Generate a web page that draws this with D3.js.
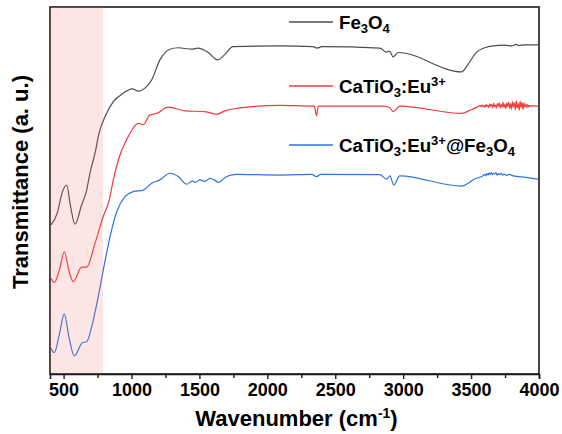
<!DOCTYPE html>
<html>
<head>
<meta charset="utf-8">
<script src="https://cdn.jsdelivr.net/npm/d3@7"></script>
<style>
  body { margin: 0; background: #fff; }
  svg text { font-family: Arial, "Liberation Sans", sans-serif; font-weight: bold; fill: #000; }
</style>
</head>
<body>
<svg id="chart" width="562" height="434"></svg>
<script>
// datos (número de onda cm-1, transmitancia u.a.)
const xTicks = [500, 1000, 1500, 2000, 2500, 3000, 3500, 4000];
const xMinorTicks = [750, 1250, 1750, 2250, 2750, 3250, 3750];
const bandRange = [400, 790]; // zona sombreada

const fe3o4 = [
  [407, 40.6], [454, 43.9], [490, 49.5], [523, 51.5], [550, 46], [584, 40.8], [633, 46.1],
  [670, 50.1], [694, 54.7], [731, 60.1], [761, 65.6], [805, 70.1], [866, 74.2],
  [939, 76.5], [1006, 77.7], [1050, 77.1], [1099, 77.9], [1148, 80.1], [1209, 85.6],
  [1283, 88.5], [1344, 88.9], [1443, 88.5], [1491, 88.8], [1565, 87.6], [1634, 85.6],
  [1688, 87.1], [1747, 89.2], [2092, 89.4], [2335, 89.2], [2367, 88.8], [2401, 89.2],
  [2828, 88.8], [2878, 87.7], [2900, 88.0], [2926, 86.4], [2963, 87.6], [3429, 82.3],
  [3480, 84.5], [3540, 87.7], [3600, 88.9], [3662, 89.4], [3750, 89.6], [3800, 89.4],
  [3830, 89.8], [3850, 89.5], [3900, 89.7], [3993, 89.7]
];

const catio3 = [
  [407, 26.1], [432, 24.9], [470, 28.5], [505, 33.3], [540, 28], [571, 25.2], [633, 29.1],
  [670, 29.1], [731, 35.6], [792, 42.9], [836, 47.4], [866, 52.9], [903, 58.3],
  [976, 64.7], [1050, 68.3], [1087, 67.9], [1136, 70.6], [1185, 71.0], [1270, 72.7],
  [1393, 71.7], [1541, 71.5], [1627, 70.8], [1688, 71.7], [1872, 72.8], [2092, 73.2],
  [2326, 73.0], [2345, 73.0], [2362, 70.4], [2375, 73.0], [2853, 73.0], [2900, 72.6],
  [2926, 71.5], [2975, 73.0], [3429, 71.0], [3500, 72.0], [3560, 73.0], [3568, 73.2],
  [3575, 72.9], [3582, 73.3], [3588, 72.8], [3596, 73.1], [3603, 72.7], [3610, 73.5],
  [3617, 72.9], [3624, 73.2], [3630, 72.6], [3637, 73.6], [3644, 73.0], [3651, 73.4],
  [3658, 72.5], [3665, 73.8], [3672, 72.9], [3679, 73.3], [3686, 72.4], [3693, 73.7],
  [3700, 73.0], [3707, 73.9], [3714, 72.5], [3721, 73.4], [3728, 72.7], [3735, 74.0],
  [3742, 72.6], [3749, 73.5], [3756, 72.3], [3763, 73.8], [3770, 72.9], [3777, 74.1],
  [3784, 72.4], [3791, 73.6], [3798, 72.2], [3805, 74.2], [3812, 72.8], [3819, 73.9],
  [3826, 72.0], [3833, 74.4], [3840, 72.5], [3847, 73.7], [3854, 71.9], [3861, 74.3],
  [3868, 72.6], [3875, 74.0], [3882, 72.1], [3889, 73.9], [3896, 72.7], [3903, 73.5],
  [3910, 72.6], [3917, 73.4], [3924, 72.8], [3931, 73.2], [3940, 72.9], [3950, 73.1],
  [3993, 72.9]
];

const composite = [
  [407, 7.0], [432, 5.8], [470, 11], [505, 16.4], [540, 10], [579, 4.9], [638, 8.5],
  [670, 8.8], [707, 12.9], [755, 21.1], [792, 28.3], [842, 37.4], [891, 44.2],
  [952, 48.3], [1013, 49.7], [1087, 50.1], [1148, 52.0], [1209, 52.9], [1283, 54.7],
  [1344, 53.8], [1406, 51.7], [1450, 52.6], [1470, 52.2], [1504, 52.9], [1540, 52.5],
  [1577, 53.3], [1610, 52.9], [1638, 52.2], [1700, 53.8], [1774, 54.4],
  [2092, 54.2], [2326, 54.4], [2362, 53.8], [2394, 54.4], [2828, 54.3], [2878, 53.1],
  [2902, 54.0], [2931, 51.5], [2975, 54.0], [3429, 51.2], [3530, 53.2], [3590, 54.1],
  [3600, 54.4], [3608, 54.0], [3617, 54.6], [3625, 54.2], [3633, 54.8], [3641, 54.4],
  [3650, 54.9], [3658, 54.3], [3666, 54.7], [3675, 54.5], [3683, 54.9], [3691, 54.2],
  [3700, 54.6], [3710, 54.3], [3720, 54.7], [3732, 54.2], [3745, 54.5], [3760, 54.1],
  [3780, 54.4], [3809, 54.0], [3850, 53.8], [3900, 53.6], [3993, 53.1]
];

const seriesNames = ["Fe3O4", "CaTiO3:Eu3+", "CaTiO3:Eu3+@Fe3O4"];
const seriesColors = ["#4d4d4d", "#f03c3c", "#2f74d9"];
const seriesData = [fe3o4, catio3, composite];

const svg = d3.select("#chart");
const plotLeft = 50, plotRight = 539, plotTop = 7, plotBottom = 374;

const x = d3.scaleLinear().domain([400, 4000]).range([plotLeft, plotRight]);
const y = d3.scaleLinear().domain([0, 100]).range([plotBottom, plotTop]);

const line = d3.line()
  .x(d => x(d[0]))
  .y(d => y(d[1]))
  .curve(d3.curveMonotoneX);

// curvas
seriesData.forEach((data, i) => {
  svg.append("path")
    .datum(data)
    .attr("fill", "none")
    .attr("stroke", seriesColors[i])
    .attr("stroke-width", 1.2)
    .attr("stroke-linejoin", "round")
    .attr("d", line);
});

// marco
svg.append("rect")
  .attr("x", plotLeft).attr("y", plotTop)
  .attr("width", plotRight - plotLeft).attr("height", plotBottom - plotTop)
  .attr("fill", "none")
  .attr("stroke", "#1a1a1a")
  .attr("stroke-width", 1.6);

// zona sombreada encima de las curvas
svg.append("rect")
  .attr("x", x(bandRange[0]))
  .attr("y", plotTop)
  .attr("width", x(bandRange[1]) - x(bandRange[0]))
  .attr("height", plotBottom - plotTop)
  .attr("fill", "#f07070")
  .attr("opacity", 0.18);

// eje x
const xAxis = svg.append("g")
  .attr("transform", `translate(0,${plotBottom})`)
  .call(d3.axisBottom(x).tickValues(xTicks).tickSize(5).tickPadding(4).tickFormat(d3.format("d")));
xAxis.select(".domain").attr("stroke", "#1a1a1a").attr("stroke-width", 1.6);
xAxis.selectAll(".tick line").attr("stroke", "#1a1a1a").attr("stroke-width", 1.4);
xAxis.selectAll(".tick text")
  .style("font-size", "18px")
  .style("font-family", "Arial, 'Liberation Sans', sans-serif")
  .style("font-weight", "bold")
  .attr("fill", "#000");

svg.append("g")
  .attr("transform", `translate(0,${plotBottom})`)
  .call(d3.axisBottom(x).tickValues(xMinorTicks).tickSize(4).tickFormat(""))
  .call(g => g.select(".domain").remove())
  .selectAll(".tick line").attr("stroke", "#1a1a1a").attr("stroke-width", 1.4);

// títulos de ejes
const xTitle = svg.append("text")
  .attr("x", (plotLeft + plotRight) / 2 + 2)
  .attr("y", 426)
  .attr("text-anchor", "middle")
  .style("font-size", "22px");
xTitle.append("tspan").text("Wavenumber (cm");
xTitle.append("tspan").text("-1").style("font-size", "14px").attr("dy", -8);
xTitle.append("tspan").text(")").attr("dy", 8);

svg.append("text")
  .attr("transform", "translate(28,182) rotate(-90)")
  .attr("text-anchor", "middle")
  .style("font-size", "22px")
  .text("Transmittance (a. u.)");

// leyenda
const legendY = [22, 86, 145];
const legendParts = [
  [["Fe", 0], ["3", 1], ["O", 0], ["4", 1]],
  [["CaTiO", 0], ["3", 1], [":Eu", 0], ["3+", 2]],
  [["CaTiO", 0], ["3", 1], [":Eu", 0], ["3+", 2], ["@Fe", 0], ["3", 1], ["O", 0], ["4", 1]]
];

legendParts.forEach((parts, i) => {
  const ly = legendY[i];
  svg.append("line")
    .attr("x1", 289).attr("x2", 333)
    .attr("y1", ly).attr("y2", ly)
    .attr("stroke", seriesColors[i])
    .attr("stroke-width", 1.4);
  const t = svg.append("text")
    .attr("x", 339)
    .attr("y", ly + 6.5)
    .style("font-size", "18.7px");
  let shift = 0;
  parts.forEach(([s, kind]) => {
    const target = kind === 1 ? 4 : kind === 2 ? -7 : 0;
    t.append("tspan")
      .text(s)
      .attr("dy", target - shift)
      .style("font-size", kind ? "13px" : "18.7px");
    shift = target;
  });
});
</script>
</body>
</html>
